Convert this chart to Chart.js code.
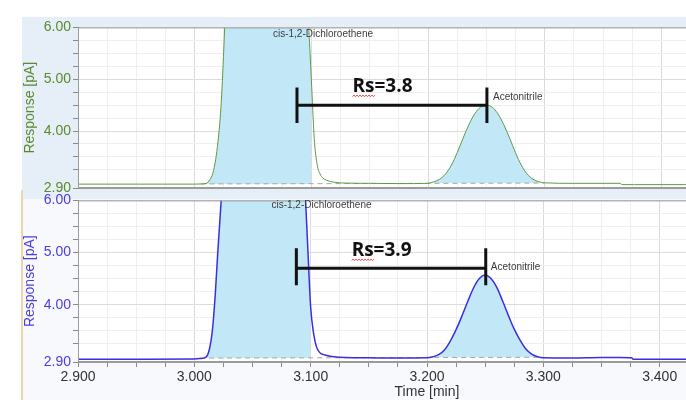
<!DOCTYPE html>
<html>
<head>
<meta charset="utf-8">
<script src="https://cdn.jsdelivr.net/npm/chart.js@4.4.1/dist/chart.umd.min.js"></script>
<style>
  html, body { margin: 0; padding: 0; background: #fff; overflow: hidden; width: 686px; height: 418px; }
  #wrap { position: relative; width: 686px; height: 418px; overflow: hidden; }
  .panel, .box { position: absolute; }
  canvas { display: block; }
</style>
</head>
<body>
<div id="wrap">
  <div class="panel" style="left:22px;top:17px;width:756px;height:182px;background:#e6eef8"></div>
  <div class="panel" style="left:21px;top:199px;width:757px;height:201px;background:#f7f9fd;border-left:2px solid #f2d3a6"></div>
  <div class="panel" style="left:21px;top:190px;width:2px;height:9px;background:#f2d3a6"></div>
  <div class="box" style="left:22px;top:17px"><canvas id="topChart" width="756" height="183"></canvas></div>
  <div class="box" style="left:22px;top:190px"><canvas id="bottomChart" width="756" height="228"></canvas></div>
</div>
<script>
// time axis shared by both traces (min)
var times = [2.900, 2.950, 3.000, 3.005, 3.010, 3.013, 3.0155, 3.018, 3.020, 3.0225, 3.025, 3.028,
  3.035, 3.060, 3.085, 3.092, 3.095, 3.0975, 3.100, 3.1025, 3.105, 3.1075, 3.110, 3.113, 3.120,
  3.130, 3.150, 3.175, 3.200, 3.205, 3.210, 3.215, 3.220, 3.225, 3.230, 3.235, 3.240, 3.245,
  3.250, 3.255, 3.260, 3.265, 3.270, 3.275, 3.280, 3.285, 3.290, 3.295, 3.300, 3.325, 3.350,
  3.365, 3.366, 3.376, 3.377, 3.420, 3.500];

// response [pA], top (green) trace
var respTop = [2.975, 2.975, 2.975, 2.978, 2.99, 3.06, 3.18, 3.45, 3.80, 4.45, 5.60, 7.40,
  11.0, 15.0, 11.0, 7.8, 6.9, 6.1, 5.0, 3.85, 3.35, 3.17, 3.09, 3.05, 3.01,
  2.995, 2.99, 2.985, 2.99, 3.02, 3.07, 3.17, 3.34, 3.58, 3.86, 4.12, 4.33, 4.46,
  4.50, 4.46, 4.33, 4.12, 3.86, 3.58, 3.34, 3.17, 3.07, 3.02, 3.00, 2.99, 2.99,
  2.99, 2.965, 2.965, 2.965, 2.965, 2.965];

// response [pA], bottom (blue) trace
var respBottom = [2.955, 2.955, 2.958, 2.965, 2.995, 3.15, 3.50, 4.20, 4.95, 5.80, 6.70, 8.0,
  11.0, 15.0, 10.5, 7.4, 6.3, 5.1, 3.95, 3.45, 3.19, 3.09, 3.05, 3.03, 3.00,
  2.985, 2.98, 2.975, 2.98, 3.00, 3.04, 3.13, 3.30, 3.52, 3.78, 4.06, 4.32, 4.50,
  4.57, 4.50, 4.33, 4.07, 3.79, 3.53, 3.32, 3.15, 3.05, 3.00, 2.98, 2.975, 2.985,
  2.985, 2.985, 2.98, 2.955, 2.955, 2.955];

// integrated windows [start, end] and baselines
var peaksTop = [[3.005, 3.100], [3.205, 3.297]];
var peaksBottom = [[3.005, 3.100], [3.200, 3.295]];
var baseTopT = [3.005, 3.300], baseTopV = [2.978, 2.995];
var baseBottomT = [3.005, 3.295], baseBottomV = [2.975, 2.99];

// ticks
var xTicks = [];
for (var k = 0; k <= 24; k++) xTicks.push(Math.round((2.9 + k * 0.025) * 1000) / 1000);
var xLabelValues = [2.9, 3.0, 3.1, 3.2, 3.3, 3.4];
var xLabels = ['2.900', '3.000', '3.100', '3.200', '3.300', '3.400'];
var yTicks = [2.9, 3.25, 3.5, 3.75, 4.0, 4.25, 4.5, 4.75, 5.0, 5.25, 5.5, 5.75, 6.0];
var yLabelValues = [2.9, 4.0, 5.0, 6.0];
var yLabels = ['2.90', '4.00', '5.00', '6.00'];

Chart.defaults.font.family = '"Liberation Sans", Arial, sans-serif';

function labelFor(vals, labels, v) {
  for (var i = 0; i < vals.length; i++) {
    if (Math.abs(vals[i] - v) < 1e-6) return labels[i];
  }
  return '';
}

function pts(resp, from, to) {
  var out = [];
  for (var i = 0; i < times.length; i++) {
    if (times[i] >= from - 1e-9 && times[i] <= to + 1e-9) out.push({x: times[i], y: resp[i]});
  }
  return out;
}

function decor(cfg) {
  return {
    id: 'decor',
    beforeDraw: function (chart) {
      var a = chart.chartArea, ctx = chart.ctx;
      ctx.save();
      ctx.fillStyle = '#fff';
      ctx.fillRect(a.left, a.top, a.right - a.left, a.bottom - a.top);
      ctx.restore();
    },
    afterDatasetsDraw: function (chart) {
      var xs = chart.scales.x, ys = chart.scales.y, ctx = chart.ctx, a = chart.chartArea;
      ctx.save();
      ctx.strokeStyle = '#9b9b9b';
      ctx.lineWidth = 1;
      ctx.strokeRect(a.left + 0.5, a.top + 0.5, a.right - a.left, a.bottom - a.top - 1);

      ctx.fillStyle = '#3c3c3c';
      ctx.font = '10px "Liberation Sans", Arial, sans-serif';
      ctx.textAlign = 'left';
      ctx.textBaseline = 'middle';
      cfg.labels.forEach(function (l) {
        ctx.fillText(l[0], xs.getPixelForValue(l[1]), ys.getPixelForValue(l[2]));
      });

      var r = cfg.rs;
      var x1 = xs.getPixelForValue(r.t1), x2 = xs.getPixelForValue(r.t2);
      var yl = ys.getPixelForValue(r.v), yh = ys.getPixelForValue(r.hi), ylo = ys.getPixelForValue(r.lo);
      ctx.strokeStyle = '#111';
      ctx.lineWidth = 3;
      ctx.beginPath();
      ctx.moveTo(x1, yl); ctx.lineTo(x2, yl);
      ctx.moveTo(x1, yh); ctx.lineTo(x1, ylo);
      ctx.moveTo(x2, yh); ctx.lineTo(x2, ylo);
      ctx.stroke();

      ctx.font = 'bold 19px "Open Sans", "Liberation Sans", sans-serif';
      ctx.fillStyle = '#111';
      ctx.textAlign = 'center';
      var cx = xs.getPixelForValue(r.tt), cy = ys.getPixelForValue(r.tv);
      ctx.fillText(r.text, cx, cy);
      var w = ctx.measureText(r.text).width, ws = ctx.measureText('Rs').width;
      var sx = cx - w / 2, sy = cy + 10;
      ctx.strokeStyle = '#e04040';
      ctx.lineWidth = 1;
      ctx.beginPath();
      ctx.moveTo(sx, sy);
      for (var p = sx, up = true; p < sx + ws; p += 1.5, up = !up) ctx.lineTo(p + 1.5, up ? sy - 1.2 : sy);
      ctx.stroke();
      ctx.restore();
    }
  };
}

function makeChart(id, resp, peaks, baseT, baseV, cfg) {
  var datasets = [
    { data: pts(resp, 2.9, 3.5), borderColor: cfg.line, borderWidth: cfg.lineWidth, pointRadius: 0,
      cubicInterpolationMode: 'monotone', fill: false },
    { data: [{x: baseT[0], y: baseV[0]}, {x: baseT[1], y: baseV[1]}], borderColor: '#9fae98',
      borderWidth: 1, borderDash: [5, 4], pointRadius: 0, fill: false },
    { data: pts(resp, peaks[0][0], peaks[0][1]), borderWidth: 0, borderColor: 'transparent', pointRadius: 0,
      cubicInterpolationMode: 'monotone', backgroundColor: '#c2e7f6', fill: {value: baseV[0]} },
    { data: pts(resp, peaks[1][0], peaks[1][1]), borderWidth: 0, borderColor: 'transparent', pointRadius: 0,
      cubicInterpolationMode: 'monotone', backgroundColor: '#c2e7f6', fill: {value: baseV[1]} }
  ];
  return new Chart(document.getElementById(id), {
    type: 'line',
    data: { datasets: datasets },
    options: {
      responsive: false,
      animation: false,
      events: [],
      layout: { padding: cfg.padding },
      plugins: { legend: { display: false }, tooltip: { enabled: false } },
      scales: {
        x: {
          type: 'linear', min: 2.9, max: 3.5,
          afterBuildTicks: function (s) { s.ticks = xTicks.map(function (v) { return {value: v}; }); },
          afterFit: function (s) { s.height = cfg.xHeight; },
          ticks: {
            display: cfg.showX, autoSkip: false, maxRotation: 0, padding: 2, color: '#333',
            font: { size: 14 },
            callback: function (v) { return labelFor(xLabelValues, xLabels, v); }
          },
          grid: {
            drawTicks: cfg.showX, tickLength: 5, tickColor: '#8a8a8a',
            color: function (c) {
              var v = c.tick.value * 10;
              return Math.abs(v - Math.round(v)) < 1e-6 ? '#dadada' : '#efefef';
            }
          },
          border: { color: '#9b9b9b' },
          title: { display: cfg.showX, text: 'Time [min]', color: '#333', font: { size: 14 },
            padding: { top: 0, bottom: 0 } }
        },
        y: {
          type: 'linear', min: 2.9, max: 6.0,
          afterBuildTicks: function (s) { s.ticks = yTicks.map(function (v) { return {value: v}; }); },
          afterFit: function (s) { s.width = 56; },
          ticks: {
            autoSkip: false, padding: 2, color: cfg.text, font: { size: 14 },
            callback: function (v) { return labelFor(yLabelValues, yLabels, v); }
          },
          grid: {
            tickLength: 5, tickColor: '#8a8a8a',
            color: function (c) {
              var v = c.tick.value;
              return Math.abs(v - Math.round(v)) < 1e-6 ? '#dcdcdc' : '#efefef';
            }
          },
          border: { color: '#8f8f8f' },
          title: { display: true, text: 'Response [pA]', color: cfg.text, font: { size: 14 },
            padding: { top: 0, bottom: 0 } }
        }
      }
    },
    plugins: [decor(cfg)]
  });
}

makeChart('topChart', respTop, peaksTop, baseTopT, baseTopV, {
  line: '#5f9a45', lineWidth: 1, text: '#5b8a2d', showX: false, xHeight: 0,
  padding: { top: 8, bottom: 12, left: 0, right: 0 },
  labels: [['cis-1,2-Dichloroethene', 3.0671, 5.867], ['Acetonitrile', 3.2557, 4.65]],
  rs: { text: 'Rs=3.8', t1: 3.0877, t2: 3.2505, v: 4.497, hi: 4.84, lo: 4.155, tt: 3.161, tv: 4.86 }
});

makeChart('bottomChart', respBottom, peaksBottom, baseBottomT, baseBottomV, {
  line: '#3b2ee0', lineWidth: 1.5, text: '#4b3ce6', showX: true, xHeight: 39,
  padding: { top: 10, bottom: 17, left: 0, right: 0 },
  labels: [['cis-1,2-Dichloroethene', 3.0663, 5.904], ['Acetonitrile', 3.2549, 4.718]],
  rs: { text: 'Rs=3.9', t1: 3.0877, t2: 3.2505, v: 4.699, hi: 5.08, lo: 4.37, tt: 3.161, tv: 5.04 }
});
</script>
</body>
</html>
